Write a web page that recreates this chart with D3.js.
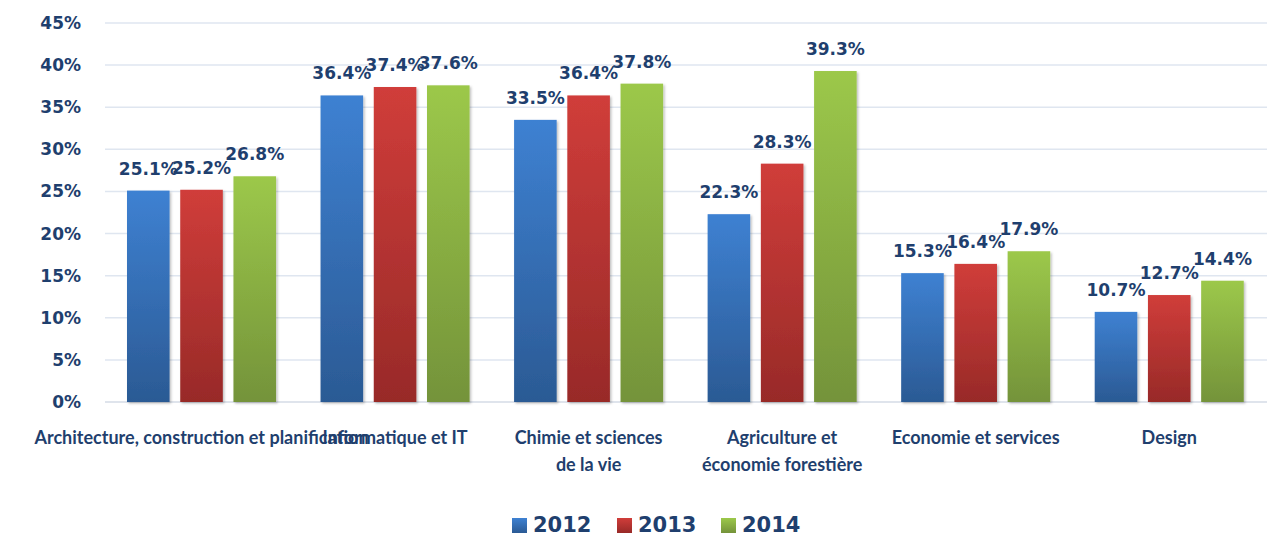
<!DOCTYPE html>
<html><head><meta charset="utf-8">
<script src="https://cdn.jsdelivr.net/npm/d3@7"></script>
<style>body{margin:0;background:#fff}svg{display:block}</style>
</head><body>
<svg id="chart" width="1277" height="537"></svg>
<script>
const categories = [
  ["Architecture, construction et planification"],
  ["Informatique et IT"],
  ["Chimie et sciences", "de la vie"],
  ["Agriculture et", "économie forestière"],
  ["Economie et services"],
  ["Design"]
];
const years = ["2012", "2013", "2014"];
const values2012 = [25.1, 36.4, 33.5, 22.3, 15.3, 10.7];
const values2013 = [25.2, 37.4, 36.4, 28.3, 16.4, 12.7];
const values2014 = [26.8, 37.6, 37.8, 39.3, 17.9, 14.4];
const yTicks = [0, 5, 10, 15, 20, 25, 30, 35, 40, 45];

const series = [values2012, values2013, values2014];
const colorsTop = ["#3e81d2", "#d03d3a", "#9cc84a"];
const colorsBot = ["#2b5a94", "#982a28", "#74933a"];
const textColor = "#1f3f6e";

const svg = d3.select("#chart");
const defs = svg.append("defs");
years.forEach((y, i) => {
  const g = defs.append("linearGradient").attr("id", "g" + i)
    .attr("x1", 0).attr("y1", 0).attr("x2", 0).attr("y2", 1);
  g.append("stop").attr("offset", "0%").attr("stop-color", colorsTop[i]);
  g.append("stop").attr("offset", "100%").attr("stop-color", colorsBot[i]);
});
const f = defs.append("filter").attr("id", "sh").attr("x", "-20%").attr("y", "-20%").attr("width", "140%").attr("height", "140%");
f.append("feDropShadow").attr("dx", 1.5).attr("dy", 1.5).attr("stdDeviation", 1.2).attr("flood-color", "#000").attr("flood-opacity", 0.25);

const catIdx = categories.map((c, i) => i);
const x0 = d3.scaleBand().domain(catIdx).range([104.75, 1266]).paddingInner(0).paddingOuter(0);
const x1 = d3.scaleBand().domain(years).range([22.25, x0.bandwidth() - 22.25]).paddingInner(0.2).paddingOuter(0);
const y = d3.scaleLinear().domain([0, 45]).range([402, 23]);

// gridlines
svg.append("g").selectAll("line").data(yTicks).join("line")
  .attr("x1", 105).attr("x2", 1267)
  .attr("y1", d => y(d)).attr("y2", d => y(d))
  .attr("stroke", d => d === 0 ? "#d4dbe6" : "#dfe6f0").attr("stroke-width", 1.5);

// y axis labels
const yAxis = d3.axisLeft(y).tickValues(yTicks).tickFormat(d => d + "%").tickSize(0).tickPadding(0);
const ya = svg.append("g").attr("transform", "translate(81,0)").call(yAxis);
ya.select(".domain").remove();
ya.selectAll("text").attr("fill", textColor).attr("font-family", "DejaVu Sans").attr("font-weight", "bold").attr("font-size", 17);

// bars
const groups = svg.append("g").selectAll("g").data(catIdx).join("g")
  .attr("transform", d => `translate(${x0(d)},0)`);
groups.selectAll("rect").data(c => years.map((yr, i) => ({yr, i, v: series[i][c]}))).join("rect")
  .attr("x", d => x1(d.yr)).attr("width", x1.bandwidth())
  .attr("y", d => y(d.v)).attr("height", d => y(0) - y(d.v))
  .attr("fill", d => `url(#g${d.i})`).attr("filter", "url(#sh)");

// value labels
groups.selectAll("text.v").data(c => years.map((yr, i) => ({yr, i, v: series[i][c]}))).join("text")
  .attr("class", "v")
  .attr("x", d => x1(d.yr) + x1.bandwidth() / 2)
  .attr("y", d => y(d.v) - 16)
  .attr("text-anchor", "middle")
  .attr("fill", textColor).attr("font-family", "DejaVu Sans").attr("font-weight", "bold").attr("font-size", 17)
  .text(d => d.v.toFixed(1) + "%");

// category labels
const cl = svg.append("g").selectAll("text").data(catIdx).join("text")
  .attr("x", d => x0(d) + x0.bandwidth() / 2).attr("y", 444)
  .attr("text-anchor", "middle")
  .attr("fill", textColor).attr("font-family", "Lato").attr("font-weight", "bold").attr("font-size", 18);
cl.selectAll("tspan").data(d => categories[d].map((t, j) => ({t, j, c: d}))).join("tspan")
  .attr("x", d => x0(d.c) + x0.bandwidth() / 2)
  .attr("dy", d => d.j === 0 ? 0 : 27)
  .text(d => d.t);

// legend
const legX = [512, 617, 721];
const leg = svg.append("g").selectAll("g").data(years).join("g")
  .attr("transform", (d, i) => `translate(${legX[i]},0)`);
leg.append("rect").attr("x", 0).attr("y", 518).attr("width", 15).attr("height", 15)
  .attr("fill", (d, i) => `url(#g${i})`);
leg.append("text").attr("x", 21).attr("y", 532)
  .attr("fill", textColor).attr("font-family", "DejaVu Sans").attr("font-weight", "bold").attr("font-size", 21)
  .text(d => d);
</script>
</body></html>
